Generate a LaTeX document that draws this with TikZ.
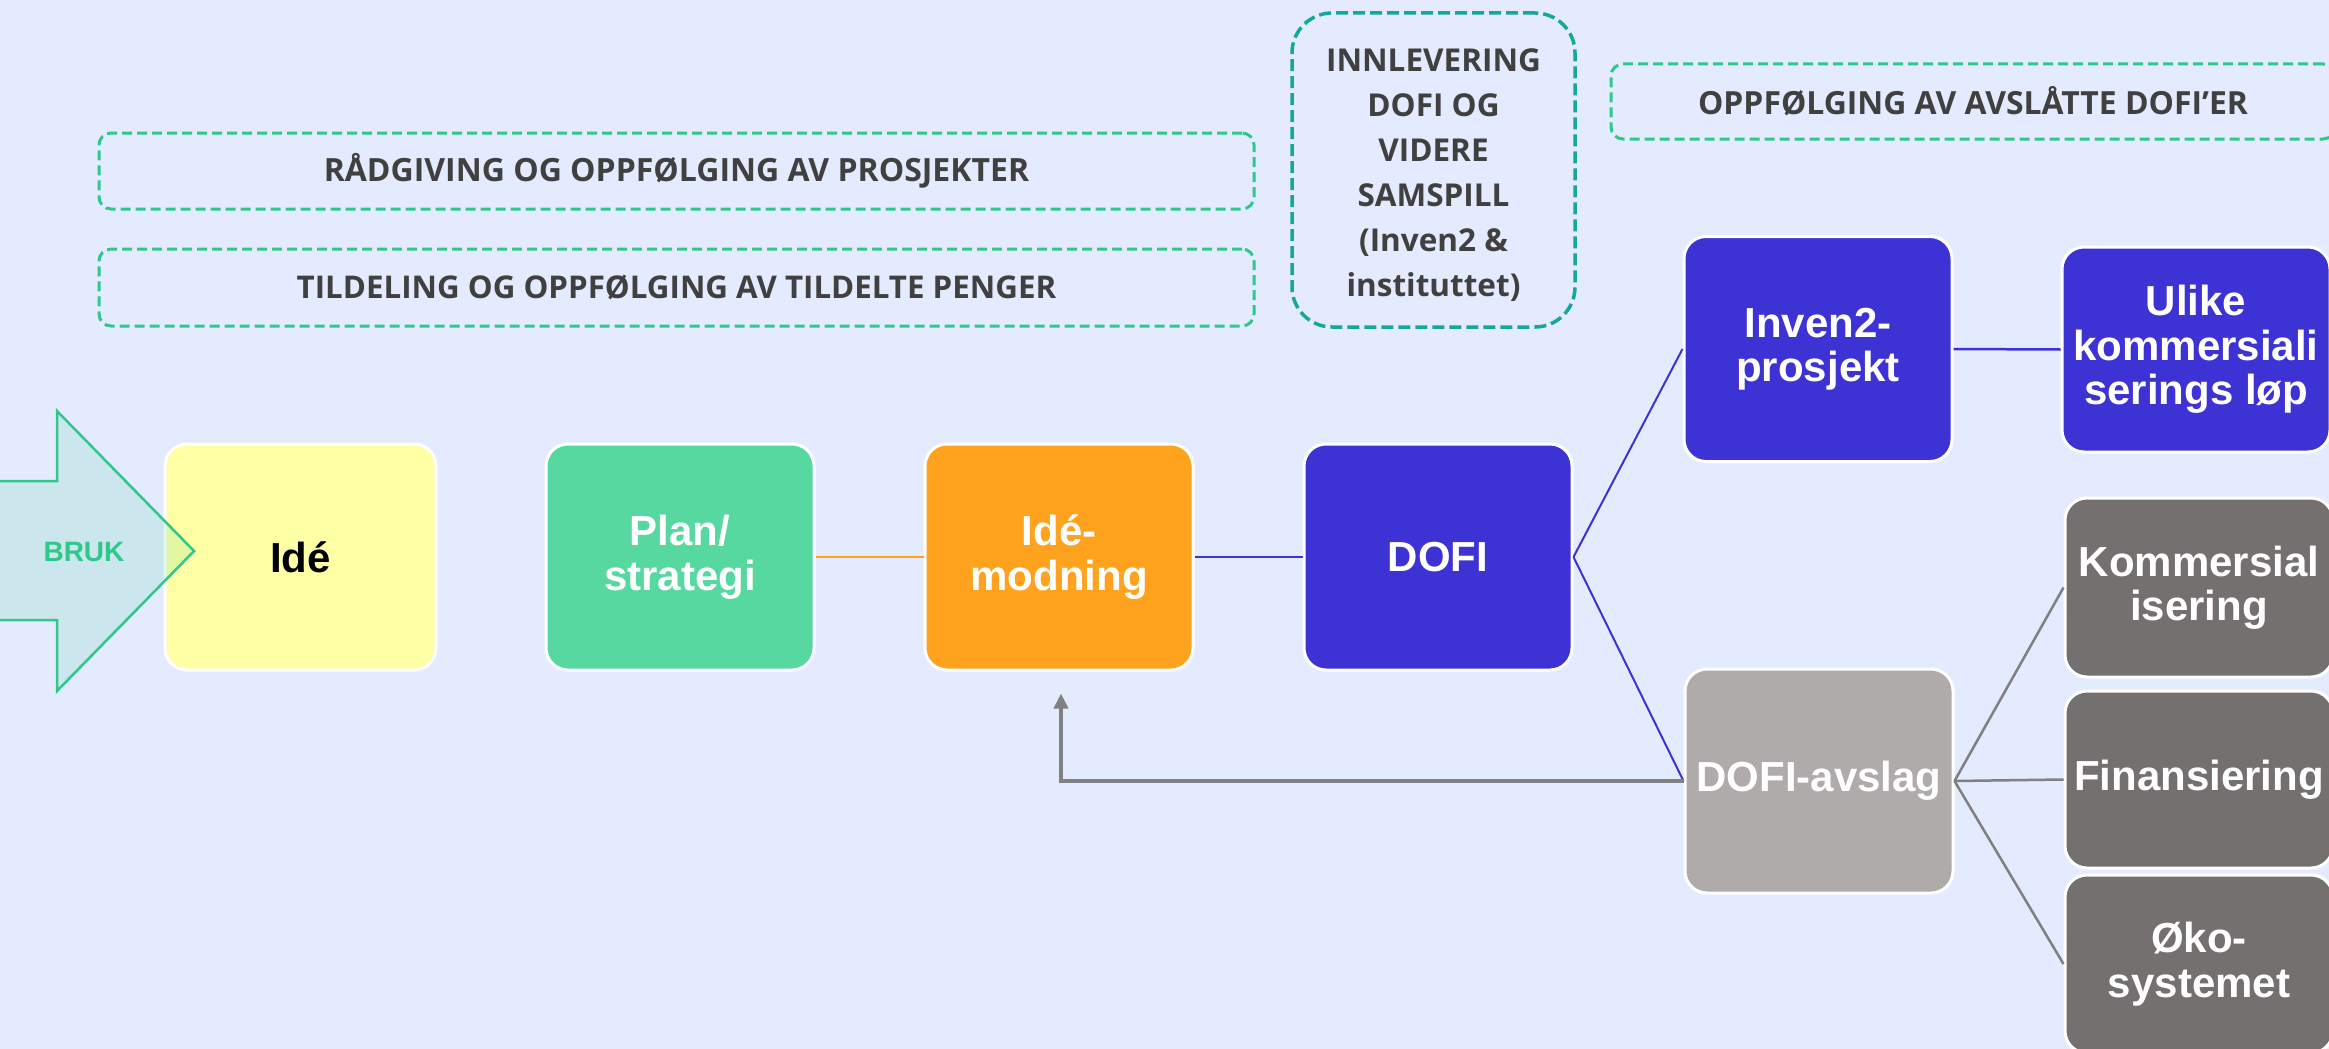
\documentclass[tikz,border=0pt]{standalone}
\usepackage{fontspec}
\setmainfont{Liberation Sans}
\newfontfamily\osans{Open Sans}
\usetikzlibrary{arrows.meta}
\definecolor{bg}{RGB}{229,235,254}
\definecolor{yel}{RGB}{255,255,166}
\definecolor{grn}{RGB}{86,216,160}
\definecolor{org}{RGB}{255,163,30}
\definecolor{blu}{RGB}{61,50,212}
\definecolor{lgray}{RGB}{174,171,170}
\definecolor{dgray}{RGB}{115,112,111}
\definecolor{dgreen}{RGB}{46,200,138}
\definecolor{teal2}{RGB}{20,168,156}
\definecolor{dtext}{RGB}{64,64,64}
\definecolor{lnk}{RGB}{128,128,128}
\begin{document}
\begin{tikzpicture}[x=1pt,y=-1pt,
  box/.style={draw=white, line width=3pt, rounded corners=22pt, minimum width=268pt,
    minimum height=226pt, inner sep=0pt, align=center, text=white,
    font=\fontsize{42}{44.5}\selectfont\bfseries},
  dbox/.style={draw=dgreen, line width=3pt, dash pattern=on 10pt off 5pt,
    rounded corners=12pt, inner sep=0pt, text=dtext, align=center,
    font=\osans\fontsize{32}{36}\selectfont\bfseries},
  link/.style={line width=2.5pt},
  fb/.style={line width=4pt, draw=lnk, -{Triangle[length=15pt,width=14pt]}}
]
\useasboundingbox[fill=bg] (0,0) rectangle (2329,1049);

% dashed label boxes
\node[dbox, minimum width=1155pt, minimum height=76pt] (radg) at (676.5,171) {RÅDGIVING OG OPPFØLGING AV PROSJEKTER};
\node[dbox, minimum width=1155pt, minimum height=77pt, font=\osans\fontsize{31.3}{36}\selectfont\bfseries] (tild) at (676.5,287.5) {TILDELING OG OPPFØLGING AV TILDELTE PENGER};
\node[dbox, draw=teal2, line width=3.5pt, dash pattern=on 12pt off 5pt, rounded corners=40pt,
  minimum width=283pt, minimum height=314pt, font=\osans\fontsize{31.5}{45}\selectfont\bfseries] (innl) at (1433.5,170)
  {\rule{0pt}{32pt}INNLEVERING\\DOFI OG\\VIDERE\\SAMSPILL\\(Inven2 \&\\instituttet)};
\node[dbox, minimum width=724pt, minimum height=75pt, font=\osans\fontsize{31.9}{36}\selectfont\bfseries] (oppf) at (1973,101.5) {OPPFØLGING AV AVSLÅTTE DOFI’ER};

% process boxes
\node[box, fill=yel, text=black, minimum width=271pt] (ide) at (300.5,557) {Idé};
\node[box, fill=grn] (plan) at (680,557) {Plan/\\strategi};
\node[box, fill=org] (mod) at (1059,557) {Idé-\\modning};
\node[box, fill=blu] (dofi) at (1438,557) {DOFI};
\node[box, fill=blu, minimum height=225pt] (inven) at (1818,349) {Inven2-\\prosjekt};
\node[box, fill=blu, minimum height=205pt] (ulike) at (2196,349.5) {Ulike\\kommersiali\\serings løp};
\node[box, fill=lgray, minimum height=224pt] (avslag) at (1819,781) {DOFI-avslag};
\node[box, fill=dgray, minimum height=179pt] (komm) at (2199,587.5) {Kommersial\\isering};
\node[box, fill=dgray, minimum height=177pt] (fin) at (2199,779.5) {Finansiering};
\node[box, fill=dgray, minimum height=178pt] (oko) at (2199,964) {Øko-\\systemet};

% connectors
\draw[link, draw=org] (plan.east) -- (mod.west);
\draw[link, draw=blu] (mod.east) -- (dofi.west);
\draw[link, draw=blu, line width=2pt] (dofi.east) -- (inven.west);
\draw[link, draw=blu, line width=2pt] (dofi.east) -- (avslag.west);
\draw[link, draw=blu] (inven.east) -- (ulike.west);
\draw[link, draw=lnk] (avslag.east) -- (komm.west);
\draw[link, draw=lnk] (avslag.east) -- (fin.west);
\draw[link, draw=lnk] (avslag.east) -- (oko.west);
\coordinate (fbend) at ([xshift=2pt,yshift=-22pt]mod.south);
\draw[fb] (avslag.west) -| (fbend);

% BRUK arrow
\draw[draw=dgreen, line width=2.5pt, fill=dgreen, fill opacity=0.14, line join=miter]
  (-5,481) -- (57,481) -- (57,411) -- (194,551) -- (57,691) -- (57,620) -- (-5,620) -- cycle;
\node[text=dgreen, font=\fontsize{28}{30}\selectfont\bfseries] (bruk) at (84,552) {BRUK};
\end{tikzpicture}
\end{document}
